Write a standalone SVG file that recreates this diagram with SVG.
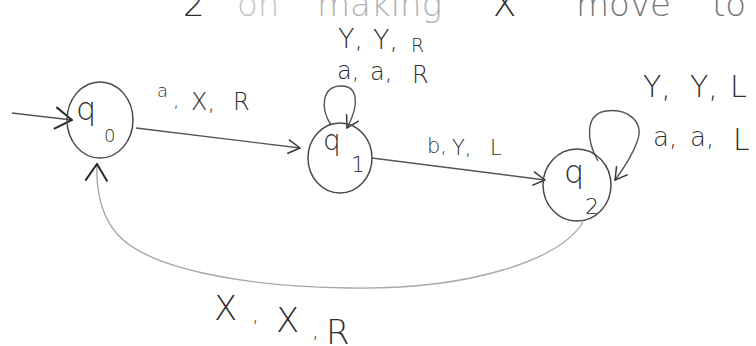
<svg xmlns="http://www.w3.org/2000/svg" width="756" height="346" viewBox="0 0 756 346">
<style>
.t{font-family:"DejaVu Sans","Liberation Sans",sans-serif;font-weight:300;fill:#2e2e2e}
.node{fill:none;stroke:#4a4a4a;stroke-width:1.5}
.edge{fill:none;stroke:#555;stroke-width:1.4}
.faint{stroke:#a8a8a8}
</style>
<defs>
<marker id="big" viewBox="0 0 20 26" refX="19" refY="13" markerWidth="20" markerHeight="26" markerUnits="userSpaceOnUse" orient="auto"><path d="M2,2 L19,13 L2,24" fill="none" stroke="#2a2a2a" stroke-width="2"/></marker>
<marker id="small" viewBox="0 0 14 16" refX="13" refY="8" markerWidth="14" markerHeight="16" markerUnits="userSpaceOnUse" orient="auto"><path d="M1,1 L13,8 L1,15" fill="none" stroke="#3a3a3a" stroke-width="1.5"/></marker>
</defs>
<rect width="756" height="346" fill="#fff"/>

<g id="heading">
<text class="t" font-size="34" y="16"><tspan x="183">2</tspan><tspan x="237" fill="#c4c4c4">on</tspan><tspan x="317" fill="#b0b0b0">making</tspan><tspan x="493">X</tspan><tspan x="576" fill="#777">move</tspan><tspan x="712" fill="#777">to</tspan></text>
</g>

<g id="connectors">
<path id="e-start" class="edge" d="M12,113 L72,120" marker-end="url(#big)"/>
<path id="e-q0-q1" class="edge" d="M136,128 L300,148" marker-end="url(#small)"/>
<path id="e-q1-q1" class="edge" d="M331,125 C320,108 322,87 340,86 C358,85 360,104 347,128" marker-end="url(#small)"/>
<path id="e-q1-q2" class="edge" d="M372,158 L545,180" marker-end="url(#small)"/>
<path id="e-q2-q2" class="edge" d="M598,161 C586,140 585,114 606,111 C628,108 645,122 637,142 C632,156 624,168 615,180" marker-end="url(#small)"/>
<path id="e-q2-q0" class="edge faint" d="M583,222 C560,260 470,290 350,288 C250,287 150,270 118,235 C100,215 96,190 97,164" marker-end="url(#big)"/>
<text class="t" font-size="24"><tspan x="157" y="97" font-size="18">a</tspan><tspan x="173" y="107" font-size="20">,</tspan><tspan x="191" y="110">X,</tspan><tspan x="233" y="110">R</tspan></text>
<text class="t" font-size="27"><tspan x="338" y="48">Y,</tspan><tspan x="373" y="49">Y,</tspan><tspan x="411" y="52" font-size="19">R</tspan></text>
<text class="t" font-size="24"><tspan x="337" y="79">a,</tspan><tspan x="370" y="80">a,</tspan><tspan x="412" y="83">R</tspan></text>
<text class="t" font-size="21"><tspan x="427" y="153">b,</tspan><tspan x="452" y="155">Y,</tspan><tspan x="490" y="155">L</tspan></text>
<text class="t" font-size="30"><tspan x="643" y="97">Y,</tspan><tspan x="690" y="97">Y,</tspan><tspan x="730" y="97">L</tspan></text>
<text class="t" font-size="26"><tspan x="653" y="146">a,</tspan><tspan x="690" y="146">a,</tspan><tspan x="733" y="150" font-size="30">L</tspan></text>
<text class="t" font-size="34"><tspan x="214" y="320">X</tspan><tspan x="252" y="322" font-size="22">,</tspan><tspan x="276" y="332">X</tspan><tspan x="312" y="338" font-size="22">,</tspan><tspan x="326" y="344">R</tspan></text>
</g>

<g id="q0">
<ellipse class="node" cx="100" cy="120" rx="33" ry="38"/>
<text class="t" font-size="32"><tspan x="76" y="120">q</tspan><tspan x="104" y="142" font-size="18">0</tspan></text>
</g>
<g id="q1">
<ellipse class="node" cx="340" cy="158" rx="32" ry="35"/>
<text class="t" font-size="28"><tspan x="323" y="150">q</tspan><tspan x="351" y="172" font-size="22">1</tspan></text>
</g>
<g id="q2">
<ellipse class="node" cx="577" cy="185" rx="34" ry="36"/>
<text class="t" font-size="32"><tspan x="564" y="183">q</tspan><tspan x="585" y="214" font-size="22">2</tspan></text>
</g>
</svg>
